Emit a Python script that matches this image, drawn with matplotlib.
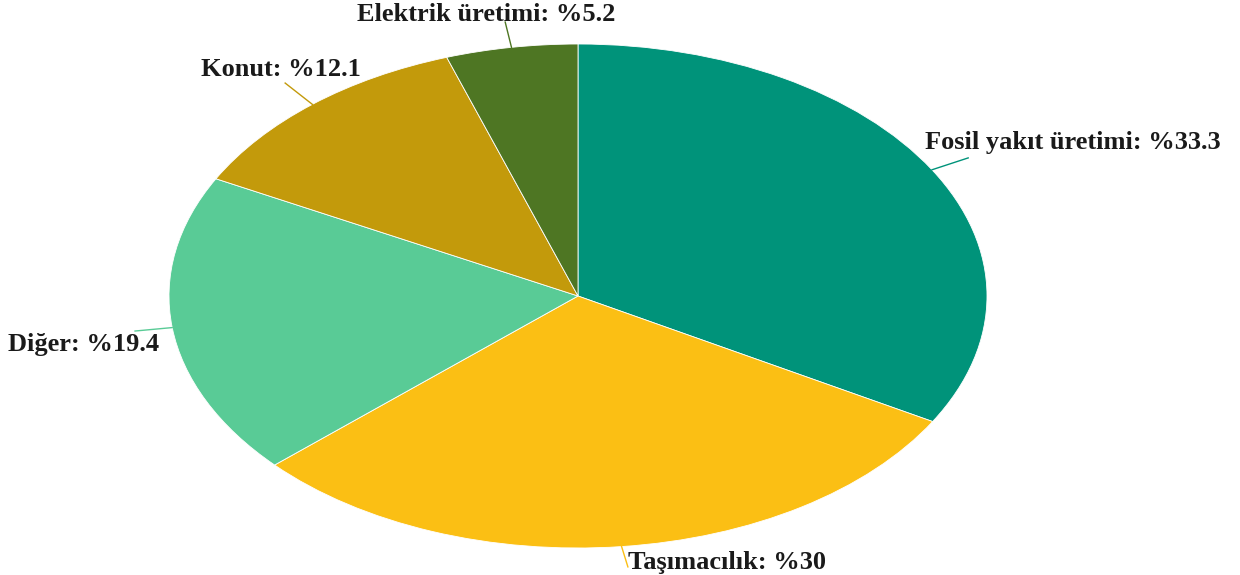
import numpy as np
import matplotlib.pyplot as plt

# sector shares (%)
labels = ["Fosil yakıt üretimi", "Taşımacılık", "Diğer", "Konut", "Elektrik üretimi"]
shares = [33.3, 30.0, 19.4, 12.1, 5.2]
colors = ["#00937A", "#FBBF14", "#59CB96", "#C39A0B", "#4E7623"]

# label placement (axes data units, pie radius = 1)
leader_end = [(0.954, 0.548), (0.122, -1.075), (-1.083, -0.139), (-0.716, 0.845), (-0.178, 1.087)]
text_pos = [(0.848, 0.611), (0.122, -1.056), (-1.394, -0.194), (-0.726, 0.897), (-0.225, 1.119)]
text_ha = ["left", "left", "left", "center", "center"]

fig = plt.figure(figsize=(12.4, 5.75), dpi=100)
ax = fig.add_axes([169 / 1240, 27 / 575, 818 / 1240, 504 / 575])

wedges, _ = ax.pie(shares, colors=colors, startangle=90, counterclock=False,
                   wedgeprops=dict(edgecolor="white", linewidth=0.6))
ax.set_aspect("auto")
ax.set_xlim(-1, 1)
ax.set_ylim(-1, 1)
ax.axis("off")

cum = np.cumsum([0] + shares[:-1])
for i, (lab, val) in enumerate(zip(labels, shares)):
    ang = np.deg2rad(90 - (cum[i] + val / 2) * 3.6)
    x0, y0 = np.cos(ang), np.sin(ang)
    x1, y1 = leader_end[i]
    ax.plot([x0, x1], [y0, y1], color=colors[i], lw=1.0, clip_on=False)
    txt = f"{lab}: %{val:g}"
    ax.text(text_pos[i][0], text_pos[i][1], txt, ha=text_ha[i], va="center",
            fontsize=19, fontweight="bold", family="Liberation Serif",
            color="#1a1a1a", clip_on=False)

fig.savefig("out.png", dpi=100)
